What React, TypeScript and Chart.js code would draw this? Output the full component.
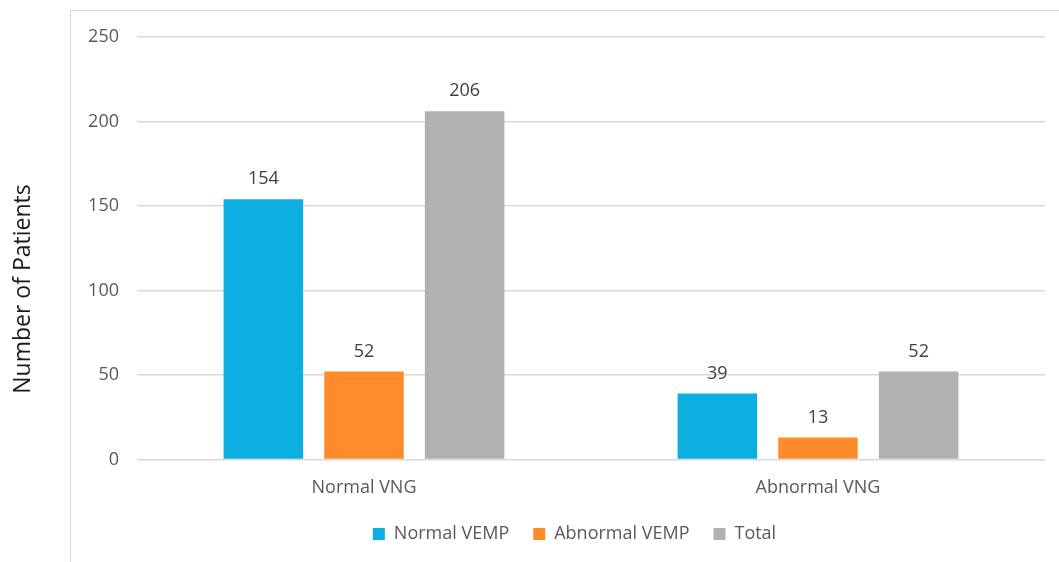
import React, { useEffect, useRef } from "react";
import { Chart, registerables } from "chart.js";

Chart.register(...registerables);

const categories = ["Normal VNG", "Abnormal VNG"];
const normalVemp = [154, 39];
const abnormalVemp = [52, 13];
const total = [206, 52];
const yTicks = [0, 50, 100, 150, 200, 250];

const FONT = "'Open Sans', 'DejaVu Sans', sans-serif";

const valueLabels = {
  id: "valueLabels",
  afterDatasetsDraw(chart: any) {
    const ctx = chart.ctx;
    ctx.save();
    ctx.font = `18px ${FONT}`;
    ctx.fillStyle = "#404040";
    ctx.textAlign = "center";
    ctx.textBaseline = "bottom";
    chart.data.datasets.forEach((ds: any, i: number) => {
      const meta = chart.getDatasetMeta(i);
      meta.data.forEach((bar: any, j: number) => {
        ctx.fillText(String(ds.data[j]), bar.x, bar.y - 11);
      });
    });
    ctx.restore();
  },
};

const yTitle = {
  id: "yTitle",
  afterDraw(chart: any) {
    const ctx = chart.ctx;
    ctx.save();
    ctx.font = `23px ${FONT}`;
    ctx.fillStyle = "#1a1a1a";
    ctx.textAlign = "center";
    ctx.textBaseline = "middle";
    ctx.translate(23, chart.height / 2 + 8);
    ctx.rotate(-Math.PI / 2);
    ctx.fillText("Number of Patients", 0, 0);
    ctx.restore();
  },
};

// Excel centres the legend on the outer plot frame rather than on the canvas
const legendShift = {
  id: "legendShift",
  afterLayout(chart: any) {
    if (chart.legend) {
      chart.legend.left += 52;
      chart.legend.right += 52;
    }
  },
};

export default function App() {
  const ref = useRef<HTMLCanvasElement>(null);
  useEffect(() => {
    if (!ref.current) return;
    const chart = new Chart(ref.current, {
      type: "bar",
      data: {
        labels: categories,
        datasets: [
          { label: "Normal VEMP", data: normalVemp, backgroundColor: "#0DAEE0" },
          { label: "Abnormal VEMP", data: abnormalVemp, backgroundColor: "#FF8B2B" },
          { label: "Total", data: total, backgroundColor: "#B1B1B1" },
        ],
      },
      options: {
        animation: false,
        responsive: false,
        categoryPercentage: 0.665,
        barPercentage: 0.79,
        layout: { padding: { top: 37, right: 14, bottom: 9, left: 0 } },
        plugins: {
          legend: {
            position: "bottom",
            labels: {
              font: { family: FONT, size: 18 },
              color: "#595959",
              boxWidth: 12,
              boxHeight: 12,
              padding: 24,
            },
          },
          tooltip: { enabled: false },
        },
        scales: {
          x: {
            grid: { display: false },
            border: { display: false },
            afterFit: (s: any) => {
              s.height = s.height - 8;
            },
            ticks: {
              font: { family: FONT, size: 18 },
              color: "#595959",
              padding: 10,
            },
          },
          y: {
            min: 0,
            max: 250,
            afterBuildTicks: (s: any) => {
              s.ticks = yTicks.map((v) => ({ value: v }));
            },
            afterFit: (s: any) => {
              s.width = 137;
            },
            grid: { color: "#D9D9D9", lineWidth: 1.5, drawTicks: false },
            border: { display: false },
            ticks: {
              font: { family: FONT, size: 18 },
              color: "#595959",
              padding: 18,
            },
          },
        },
      },
      plugins: [valueLabels, yTitle, legendShift],
    });
    return () => chart.destroy();
  }, []);

  return (
    <div style={{ position: "absolute", left: 0, top: 0, width: 1059, height: 562, background: "#fff" }}>
      <div
        style={{
          position: "absolute",
          left: 70,
          top: 10,
          width: 989,
          height: 552,
          borderLeft: "1.5px solid #D9D9D9",
          borderTop: "1.5px solid #D9D9D9",
        }}
      />
      <canvas ref={ref} width={1059} height={562} style={{ position: "absolute", left: 0, top: 0 }} />
    </div>
  );
}
